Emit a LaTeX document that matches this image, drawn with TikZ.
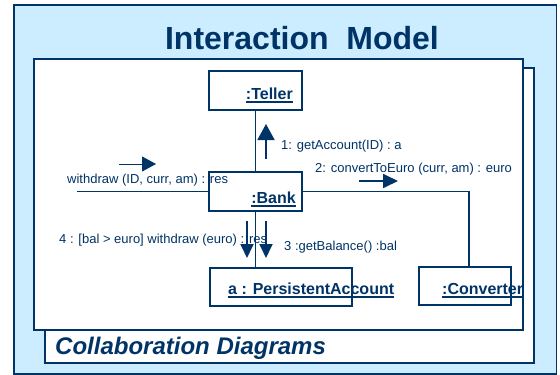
\documentclass[tikz,border=0pt]{standalone}
\usepackage{fontspec}
\setmainfont{Liberation Sans}
\usetikzlibrary{arrows.meta}
\definecolor{navy}{HTML}{003366}
\definecolor{paleblue}{HTML}{CCECFF}
\tikzset{
  sheet/.style={draw=navy, fill=white, line width=1.4pt},
  objbox/.style={draw=navy, fill=white, line width=1.6pt, inner sep=0pt},
  objname/.style={text=navy, inner sep=0pt, font=\fontsize{16}{18}\selectfont\bfseries},
  msg/.style={text=navy, inner sep=0pt, font=\fontsize{13}{15}\selectfont},
  link/.style={draw=navy, line width=1.6pt},
  flow/.style={draw=navy, line width=1.8pt},
  uline/.style={draw=navy, line width=1.8pt}
}
\begin{document}
\begin{tikzpicture}[x=1pt,y=-1pt]
\useasboundingbox (0,0) rectangle (560,375);
% frame and stacked sheets
\draw[fill=paleblue, draw=navy, line width=1.2pt] (14,5) rectangle (556.5,374);
\draw[sheet] (45,68) rectangle (534,363);
\draw[sheet] (34,59) rectangle (523,330);
\node[anchor=base, text=navy, inner sep=0pt, font=\fontsize{32}{36}\selectfont\bfseries] (title) at (302,49) {Interaction\ \ Model};
\node[anchor=base west, text=navy, inner sep=0pt, font=\fontsize{24}{28}\selectfont\bfseries\itshape] (caption) at (55,354) {Collaboration Diagrams};

\begin{scope}
\clip (34,59) rectangle (523,330);
% objects
\node[objbox, minimum width=93pt, minimum height=39pt] (teller) at (255.5,90.5) {};
\node[objbox, minimum width=93pt, minimum height=39pt] (bank) at (255.5,191.5) {};
\node[objbox, minimum width=142pt, minimum height=38pt] (acct) at (281,287) {};
\node[objbox, minimum width=92pt, minimum height=38pt] (conv) at (465,286) {};

% links between objects
\coordinate (client) at (77,191.5);
\draw[link] (teller.south) -- (bank.north);
\draw[link] (client) -- (bank.west);
\draw[link] (bank.south) -- (bank.south |- acct.north);
\draw[link] (bank.east) -| ([xshift=4pt]conv.north);

% messages
\node[msg, anchor=base west] (m1) at (281,149.5) {1: getAccount(ID) : a};
\node[msg, anchor=base west] (m2) at (315,172) {2: convertToEuro (curr, am) : euro};
\node[msg, anchor=base west] (m0) at (67,183) {withdraw (ID, curr, am) : res};
\node[msg, anchor=base west] (m4) at (59,243) {4 : [bal > euro] withdraw (euro) : res};
\node[msg, anchor=base west] (m3) at (284,250) {3 :getBalance() :bal};

% object names
\node[objname, anchor=base east] (tname) at (293,99) {:Teller};
\node[objname, anchor=base east] (bname) at (296,203) {:Bank};
\node[objname, anchor=base west] (aname) at (228,294) {a : PersistentAccount};
\node[objname, anchor=base west] (cname) at (442,294.5) {:Converter};
\foreach \n in {tname,bname,aname,cname}
  \draw[uline] ([yshift=-2.8pt]\n.base west) -- ([yshift=-2.8pt]\n.base east);

% message arrows
\coordinate (a1s) at (266,159); \coordinate (a1e) at (266,124);
\coordinate (a2s) at (359,181); \coordinate (a2e) at (398,181);
\coordinate (a0s) at (119,164); \coordinate (a0e) at (156,164);
\coordinate (a4s) at (247,221); \coordinate (a4e) at (247,258);
\coordinate (a3s) at (266,221); \coordinate (a3e) at (266,258);
\draw[flow, -{Triangle[length=16pt,width=17pt]}] (a1s) -- (a1e);
\draw[flow, -{Triangle[length=15pt,width=14pt]}] (a2s) -- (a2e);
\draw[draw=navy, line width=1pt, -{Triangle[length=14pt,width=15pt]}] (a0s) -- (a0e);
\draw[flow, -{Triangle[length=14pt,width=13pt]}] (a4s) -- (a4e);
\draw[flow, -{Triangle[length=14pt,width=13pt]}] (a3s) -- (a3e);
\end{scope}
\draw[draw=navy, line width=1.4pt] (34,59) rectangle (523,330);
\end{tikzpicture}
\end{document}
